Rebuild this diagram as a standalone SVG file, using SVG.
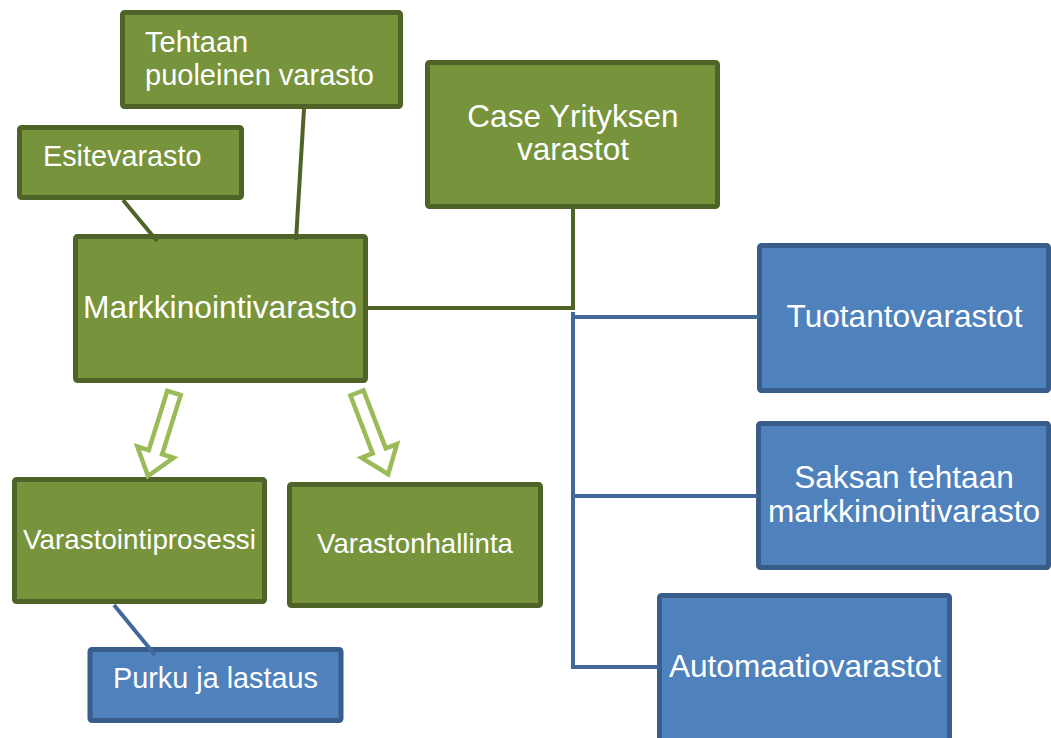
<svg xmlns="http://www.w3.org/2000/svg" width="1051" height="738" viewBox="0 0 1051 738">
<style>
.g{fill:#77933C;stroke:#4F6228;stroke-width:5}
.b{fill:#4F81BD;stroke:#385D8A;stroke-width:5}
text{font-family:"Liberation Sans",Arial,sans-serif;fill:#FFFFFF}
.c{text-anchor:middle}
.cg{fill:none;stroke:#4F6228;stroke-width:4}
.cb{fill:none;stroke:#41699C;stroke-width:4}
.ar{fill:#FFFFFF;stroke:#9BBB59;stroke-width:4.5;stroke-linejoin:miter}
</style>
<defs>
<path id="blk" d="M-7,0 L7,0 L7,62 L19,62 L0,87 L-19,62 L-7,62 Z"/>
</defs>
<rect width="1051" height="738" fill="#FFFFFF"/>
<g id="tehtaan"><rect class="g" x="122.5" y="12.5" width="278" height="94" rx="2"/><text x="145" y="52" font-size="29">Tehtaan</text><text x="145" y="85" font-size="29">puoleinen varasto</text></g>
<g id="esite"><rect class="g" x="19.5" y="127.5" width="222" height="70" rx="2"/><text x="43" y="166" font-size="28.8">Esitevarasto</text></g>
<g id="case"><rect class="g" x="427.5" y="62.5" width="290" height="144" rx="2"/><text class="c" x="573" y="127" font-size="31.5">Case Yrityksen</text><text class="c" x="573" y="160" font-size="31.5">varastot</text></g>
<g id="markk"><rect class="g" x="75.5" y="236.5" width="290" height="144" rx="2"/><text class="c" x="220" y="318" font-size="31.8">Markkinointivarasto</text></g>
<g id="tuotanto"><rect class="b" x="759.5" y="245.5" width="289" height="145" rx="2"/><text class="c" x="904.5" y="327" font-size="31.6">Tuotantovarastot</text></g>
<g id="saksan"><rect class="b" x="758.5" y="423.5" width="290" height="144" rx="2"/><text class="c" x="904" y="488" font-size="31.6">Saksan tehtaan</text><text class="c" x="904" y="522" font-size="31.6">markkinointivarasto</text></g>
<g id="automaatio"><rect class="b" x="659.5" y="595.5" width="290" height="160" rx="2"/><text class="c" x="805" y="677" font-size="31.6">Automaatiovarastot</text></g>
<g id="varastointi"><rect class="g" x="14.5" y="479.5" width="250" height="122" rx="2"/><text class="c" x="139.5" y="549" font-size="27.8">Varastointiprosessi</text></g>
<g id="hallinta"><rect class="g" x="289.5" y="484.5" width="251" height="121" rx="2"/><text class="c" x="415" y="553" font-size="27.6">Varastonhallinta</text></g>
<g id="purku"><rect class="b" x="90" y="649.5" width="251" height="71" rx="2"/><text class="c" x="215.5" y="688" font-size="28.8">Purku ja lastaus</text></g>
<g id="connectors">
<polyline class="cg" points="573,209 573,308 368,308"/>
<path class="cb" d="M573,312 V667 H659 M573,317 H759 M573,496 H758"/>
<line class="cg" stroke-width="3.5" x1="123" y1="200" x2="157" y2="241"/>
<line class="cg" stroke-width="3.5" x1="304" y1="109" x2="296" y2="240"/>
<line class="cb" stroke-width="3.5" x1="114" y1="605" x2="155" y2="655"/>
<use href="#blk" class="ar" transform="translate(174,393) rotate(17.4)"/>
<use href="#blk" class="ar" transform="translate(357,393) rotate(-21)"/>
</g>
</svg>
